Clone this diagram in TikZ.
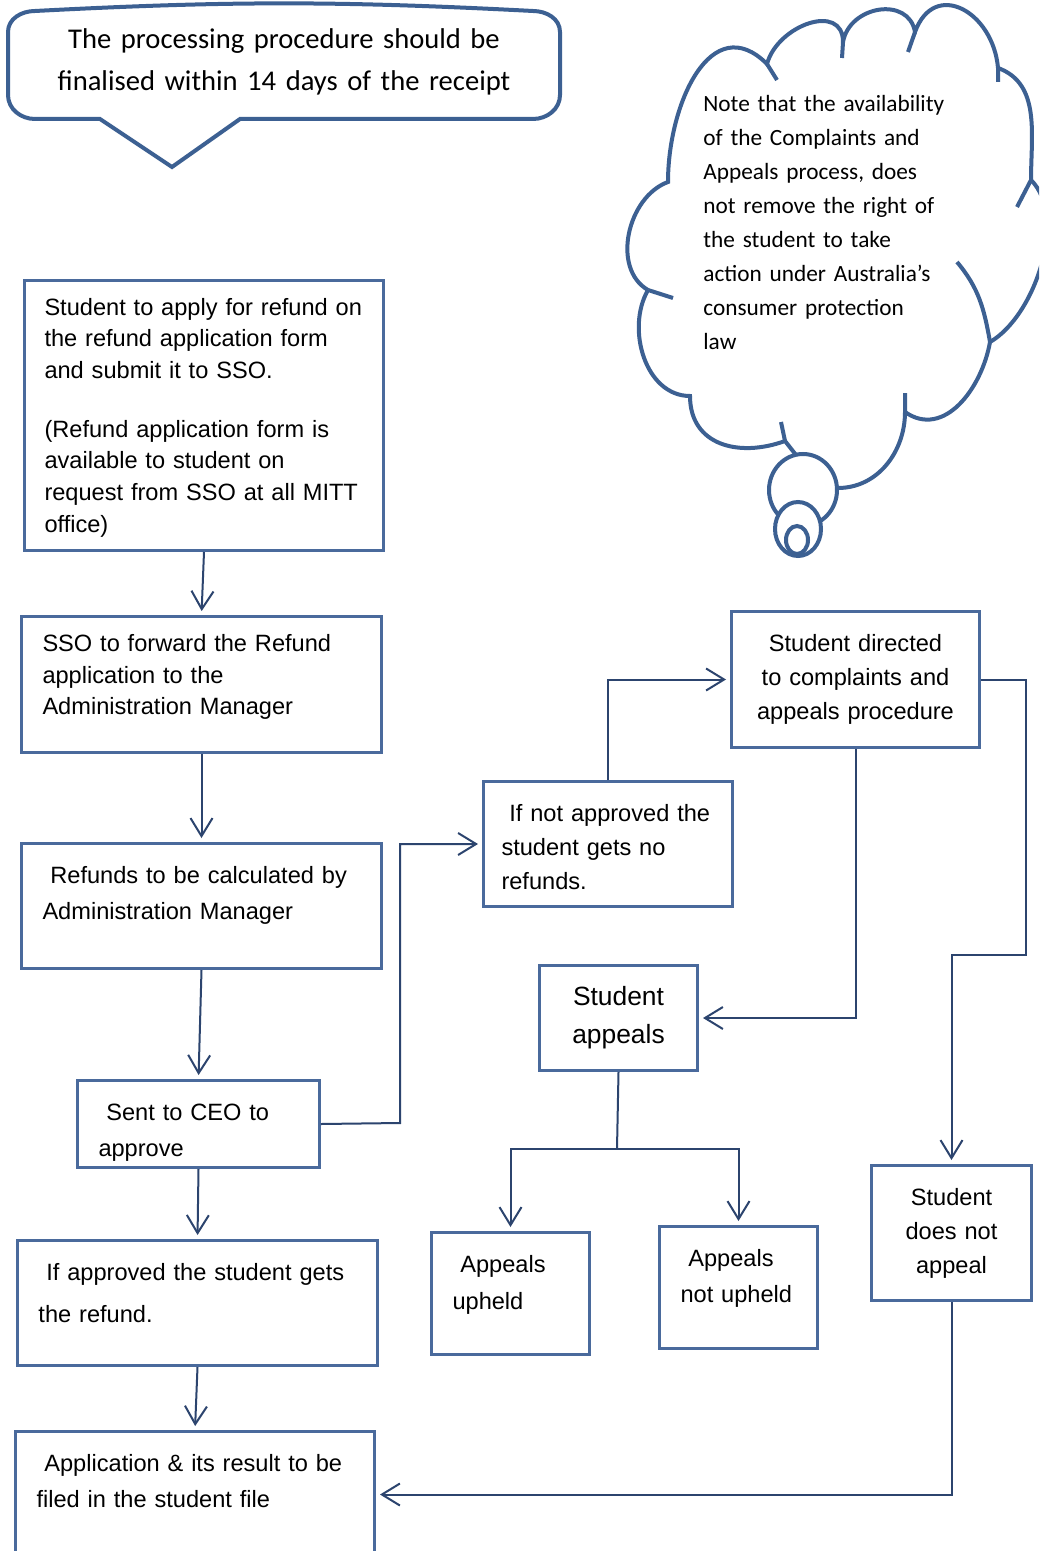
\documentclass[tikz,border=0pt]{standalone}
\usepackage{fontspec}
\setmainfont{Liberation Sans}
\newfontfamily\notefont{Carlito}
\usetikzlibrary{arrows.meta}

\definecolor{boxblue}{RGB}{74,106,156}
\definecolor{linenavy}{RGB}{44,68,110}
\definecolor{cloudblue}{RGB}{60,96,146}

\tikzstyle{step_box} = [
    rectangle,
    draw=boxblue,
    line width=1.5pt,
    anchor=north west,
    align=left,
    font=\fontsize{11.8}{18}\selectfont,
    inner xsep=10.5pt, % 21px to the first letter
    inner ysep=0pt,
    text height=20pt % top edge to first baseline
]
\tikzstyle{flow_line} = [
    draw=linenavy,
    line width=1pt
]
\tikzstyle{flow_arrow} = [
    flow_line,
    -{Straight Barb[length=9pt, width=11pt]},
    shorten >=2pt
]
\tikzstyle{cloud_line} = [
    draw=cloudblue,
    line width=2pt
]
\tikzstyle{note_text} = [
    anchor=base west,
    align=left,
    inner sep=0pt,
    font=\notefont\fontsize{11.65}{17}\selectfont
]

\begin{document}
\begin{tikzpicture}[x=0.5pt, y=-0.5pt]
\useasboundingbox (0,0) rectangle (1039,1551);
\fill[white] (0,0) rectangle (1039,1551);
\clip (0,0) rectangle (1039,1551);

% speech callout
\draw[cloud_line] (100,119) -- (35,119) to[out=180, in=270] (8,95) -- (8,32)
    to[out=90, in=180] (35,11) to[bend left=3] (533,11) to[out=0, in=90] (560,32)
    -- (560,95) to[out=270, in=0] (533,119) -- (240,119) -- (172,167) -- cycle;
\node[anchor=base, align=center, inner sep=0pt, text width=280pt,
    font=\notefont\fontsize{14.3}{21}\selectfont] (deadline_note) at (284,49)
    {The processing procedure should be\\finalised within 14 days of the receipt};

% thought cloud
\draw[cloud_line] (648,290) to[out=150, in=200] (668,182)
    to[out=90, in=135, looseness=1.3] (767,64)
    to[out=75, in=90, looseness=1.3] (843,42)
    to[out=80, in=100, looseness=1.3] (915,32)
    to[out=70, in=95, looseness=1.6] (998,68)
    to[out=-20, in=90] (1031,180)
    to[out=-45, in=30, looseness=0.8] (990,342)
    to[out=-100, in=-35, looseness=1.1] (905,412)
    to[out=-90, in=0] (838,488)
    -- (796,455) -- (785,441)
    to[out=200, in=-90, looseness=1.2] (690,396)
    to[out=180, in=240] (648,290);
\draw[cloud_line] (767,64) -- (777,80)
    (843,42) -- (842,58)
    (915,32) -- (908,52)
    (998,68) -- (998,82)
    (1031,180) -- (1017,207)
    (905,412) -- (905,393)
    (785,441) -- (781,422)
    (648,290) -- (673,298)
    (957,262) to[out=-50, in=100] (990,342);
\draw[cloud_line, fill=white] (803,490) ellipse [x radius=34, y radius=36];
\draw[cloud_line, fill=white] (798,529) ellipse [x radius=23, y radius=27];
\draw[cloud_line, fill=white] (797,540) ellipse [x radius=11, y radius=14];
\node[note_text, text width=130pt] (cloud_note) at (703,112)
    {Note that the availability\\of the Complaints and\\Appeals process, does\\not remove the right of\\the student to take\\action under Australia’s\\consumer protection\\law};

% left column
\node[step_box, text width=159.5pt, inner xsep=10pt, text height=17.5pt, text depth=117.5pt,
    font=\fontsize{11.8}{15.75}\selectfont] (refund_form) at (23,279)
    {Student to apply for refund on\\the refund application form\\and submit it to SSO.\\[13.75pt](Refund application form is\\available to student on\\request from SSO at all MITT\\office)};
\node[step_box, text width=159pt, text height=17.5pt, text depth=50.5pt,
    font=\fontsize{11.8}{15.75}\selectfont] (sso_forward) at (20,615)
    {SSO to forward the Refund\\application to the\\Administration Manager};
\node[step_box, text width=159pt, text depth=42.5pt] (refund_calc) at (20,842)
    {~Refunds to be calculated by\\Administration Manager};
\node[step_box, text width=100pt, text depth=23.5pt] (ceo_approve) at (76,1079)
    {~Sent to CEO to\\approve};
\node[step_box, text width=159pt, text depth=42.5pt,
    font=\fontsize{11.8}{21}\selectfont] (approved) at (16,1239)
    {~If approved the student gets\\the refund.};
\node[step_box, text width=158.5pt, text depth=43pt] (filed) at (14,1430)
    {~Application \& its result to be\\filed in the student file};

% right part
\node[step_box, text width=106.5pt, inner xsep=9pt, text depth=42.5pt,
    font=\fontsize{11.8}{17}\selectfont] (not_approved) at (482,780)
    {~If not approved the\\student gets no\\refunds.};
\node[step_box, align=center, text width=114pt, inner xsep=5pt, text depth=48pt,
    font=\fontsize{11.8}{17}\selectfont] (complaints) at (730,610)
    {Student directed\\to complaints and\\appeals procedure};
\node[step_box, align=center, text width=69pt, inner xsep=5pt, text depth=32.5pt,
    font=\fontsize{13.2}{19}\selectfont] (appeals) at (538,964)
    {Student\\appeals};
\node[step_box, text width=58pt, text depth=41pt,
    font=\fontsize{11.8}{18.5}\selectfont] (upheld) at (430,1231)
    {~Appeals\\upheld};
\node[step_box, text width=58pt, text depth=41pt] (not_upheld) at (658,1225)
    {~Appeals\\not upheld};
\node[step_box, align=center, text width=70pt, inner xsep=5pt, text depth=47.5pt,
    font=\fontsize{11.8}{17}\selectfont] (no_appeal) at (870,1164)
    {Student\\does not\\appeal};

% connectors
\coordinate (ceo_turn) at (400,1123);
\coordinate (side_turn) at (1026,955);
\coordinate (split) at (617,1149);

\draw[flow_arrow] (refund_form.south) -- (sso_forward.north);
\draw[flow_arrow] (sso_forward.south) -- (refund_calc.north);
\draw[flow_arrow] (refund_calc.south) -- (ceo_approve.north);
\draw[flow_arrow] (ceo_approve.south) -- (approved.north);
\draw[flow_arrow] (approved.south) -- (filed.north);
\draw[flow_arrow] (ceo_approve.east) -- (ceo_turn) |- (not_approved.west);
\draw[flow_arrow] (not_approved.north) |- (complaints.west);
\draw[flow_arrow] (complaints.south) |- (appeals.east);
\draw[flow_arrow] (complaints.east) -| (side_turn) -| (no_appeal.north);
\draw[flow_line] (appeals.south) -- (split);
\draw[flow_arrow] (split) -| (upheld.north);
\draw[flow_arrow] (split) -| (not_upheld.north);
\draw[flow_arrow] (no_appeal.south) |- (filed.east);
\end{tikzpicture}
\end{document}
